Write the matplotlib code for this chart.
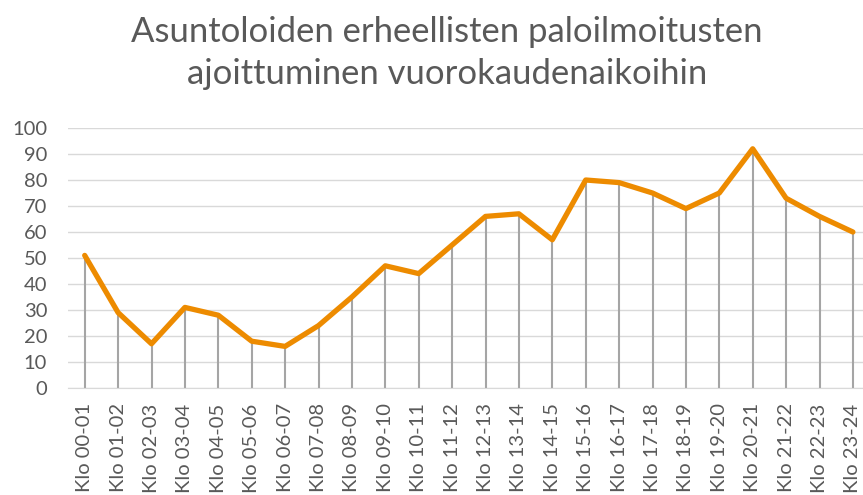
import matplotlib
matplotlib.use("Agg")
import matplotlib.pyplot as plt
import numpy as np

title_lines = ["Asuntoloiden erheellisten paloilmoitusten",
               "ajoittuminen vuorokaudenaikoihin"]
hours = ["Klo %02d-%02d" % (h, h + 1) for h in range(24)]
counts = [51, 29, 17, 31, 28, 18, 16, 24, 35, 47, 44, 55,
          66, 67, 57, 80, 79, 75, 69, 75, 92, 73, 66, 60]

plt.rcParams['font.family'] = ['Lato', 'DejaVu Sans']
txt = '#595959'

fig = plt.figure(figsize=(8.63, 4.95), dpi=100)
ax = fig.add_axes([68 / 863, 1 - 388 / 495, (863 - 68) / 863, 260 / 495])

x = np.arange(len(counts))
ax.vlines(x, 0, counts, colors='#A5A5A5', linewidth=1.5, zorder=2)
ax.plot(x, counts, color='#ED8B00', linewidth=3.8, solid_capstyle='round',
        solid_joinstyle='round', zorder=3)

ax.set_ylim(0, 100)
ax.set_xlim(-0.5, (863 - 68) / 33.4 - 0.5)
ax.set_yticks(range(0, 101, 10))
ax.set_xticks(x)
ax.set_xticklabels(hours, rotation=90)
ax.yaxis.grid(True, color='#D9D9D9', linewidth=1)
ax.set_axisbelow(True)
for s in ['top', 'right', 'left']:
    ax.spines[s].set_visible(False)
ax.spines['bottom'].set_color('#D9D9D9')
ax.tick_params(axis='both', length=0, labelsize=14.5, colors=txt)
ax.tick_params(axis='y', pad=15)
ax.tick_params(axis='x', pad=11)

for i, line in enumerate(title_lines):
    fig.text(447 / 863, 1 - (42 + 42 * i) / 495, line, ha='center',
             va='baseline', fontsize=24.9, color=txt)

fig.savefig("out.png", dpi=100)
